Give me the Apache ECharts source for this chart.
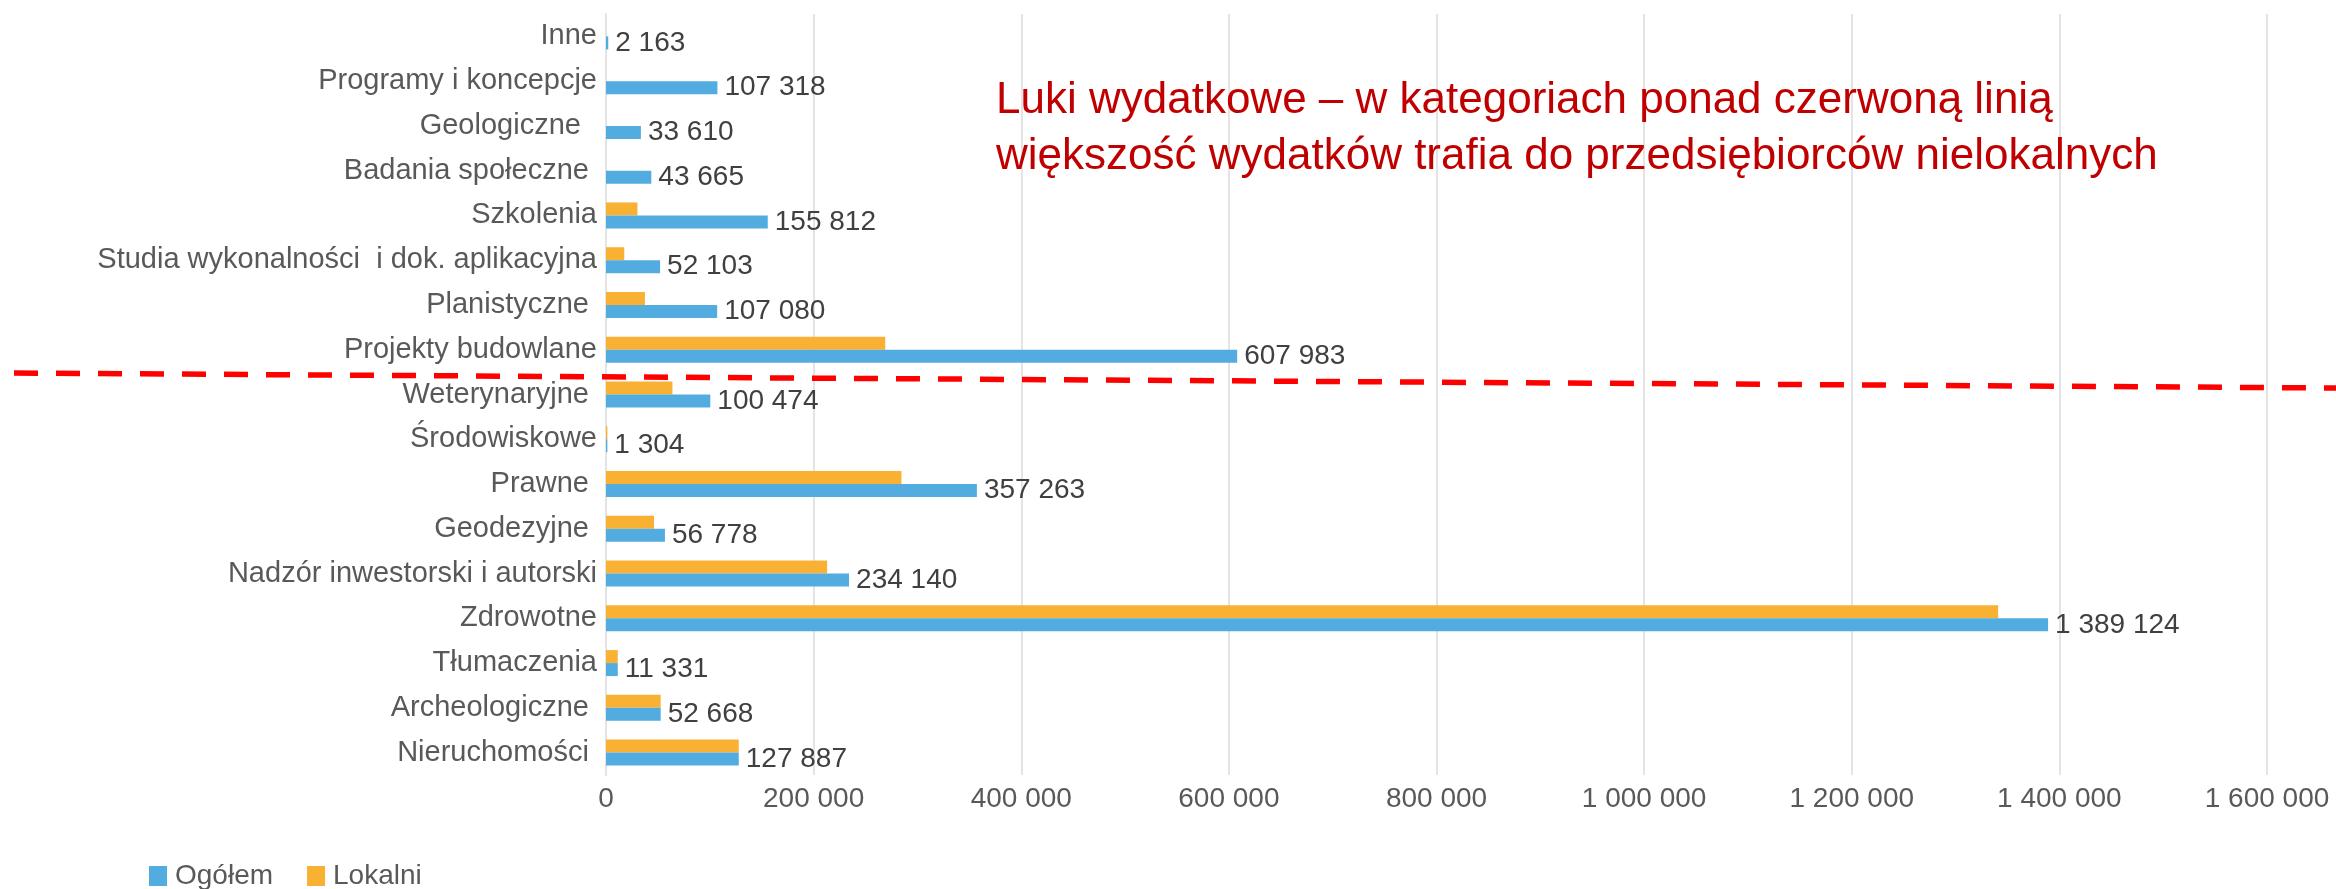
<!DOCTYPE html>
<html>
<head>
<meta charset="utf-8">
<script src="https://cdn.jsdelivr.net/npm/echarts@6/dist/echarts.min.js"></script>
<style>
  html, body { margin: 0; padding: 0; background: #fff; }
  #wydatki { width: 2336px; height: 889px; }
</style>
</head>
<body>
<div id="wydatki"></div>
<script>
// kategorie od gory do dolu (spacje na koncu jak w oryginale)
var categories = ['Inne', 'Programy i koncepcje', 'Geologiczne  ', 'Badania społeczne ', 'Szkolenia',
  'Studia wykonalności  i dok. aplikacyjna', 'Planistyczne ', 'Projekty budowlane', 'Weterynaryjne ',
  'Środowiskowe', 'Prawne ', 'Geodezyjne ', 'Nadzór inwestorski i autorski', 'Zdrowotne',
  'Tłumaczenia', 'Archeologiczne ', 'Nieruchomości '];

var ogolem = [2163, 107318, 33610, 43665, 155812, 52103, 107080, 607983, 100474,
  1304, 357263, 56778, 234140, 1389124, 11331, 52668, 127887];

// (przyblizone)
var lokalni = [0, 0, 0, 0, 30300, 17600, 37500, 269000, 64000,
  1300, 284600, 46300, 213000, 1341000, 11331, 52668, 127887];

var xTickLabels = ['0', '200 000', '400 000', '600 000', '800 000', '1 000 000', '1 200 000', '1 400 000', '1 600 000'];

var tytul = 'Luki wydatkowe – w kategoriach ponad czerwoną linią\nwiększość wydatków trafia do przedsiębiorców nielokalnych';

function spacje(v) {
  return String(v).replace(/\B(?=(\d{3})+(?!\d))/g, ' ');
}

function drawWydatki() {
  var dom = document.getElementById('wydatki');
  var myChart = echarts.init(dom);
  var font = 'Liberation Sans';

  var option = {
    animation: false,
    textStyle: { fontFamily: font },
    title: {
      text: tytul,
      left: 996,
      top: 73,
      padding: 0,
      textStyle: { color: '#c00000', fontSize: 44, fontWeight: 'normal', lineHeight: 56, fontFamily: font }
    },
    legend: {
      data: ['Ogółem', 'Lokalni'],
      left: 144,
      top: 857,
      icon: 'rect',
      itemWidth: 18,
      itemHeight: 20,
      itemGap: 34,
      textStyle: { fontSize: 28, color: '#595959', padding: [0, 0, 0, 3], fontFamily: font }
    },
    grid: { left: 606, right: 69, top: 14, bottom: 114, containLabel: false },
    xAxis: {
      type: 'value',
      min: 0,
      max: 1600000,
      interval: 200000,
      axisLine: { show: false },
      axisTick: { show: false },
      splitLine: { lineStyle: { color: '#e4e4e4', width: 2 } },
      axisLabel: {
        fontSize: 28,
        color: '#595959',
        margin: 10,
        formatter: function (v) { return xTickLabels[Math.round(v / 200000)]; }
      }
    },
    yAxis: {
      type: 'category',
      data: categories,
      inverse: true,
      axisLine: { lineStyle: { color: '#e4e4e4', width: 2 } },
      axisTick: { show: false },
      axisLabel: { fontSize: 29, color: '#595959', margin: 9 }
    },
    series: [
      {
        name: 'Lokalni',
        type: 'bar',
        data: lokalni,
        barWidth: 13,
        barGap: '0%',
        itemStyle: { color: '#f9b134' }
      },
      {
        name: 'Ogółem',
        type: 'bar',
        data: ogolem,
        barWidth: 13,
        barGap: '0%',
        itemStyle: { color: '#52ace0' },
        label: {
          show: true,
          position: 'right',
          distance: 7,
          fontSize: 28,
          color: '#404040',
          formatter: function (p) { return spacje(p.value); }
        }
      }
    ],
    graphic: [
      {
        type: 'line',
        z: 100,
        shape: { x1: 14, y1: 373, x2: 2336, y2: 388 },
        style: { stroke: '#ff0000', lineWidth: 5.5, lineDash: [24, 18] }
      }
    ]
  };

  if (option && typeof option === 'object') {
    myChart.setOption(option, true);
  }
}

drawWydatki();
</script>
</body>
</html>
